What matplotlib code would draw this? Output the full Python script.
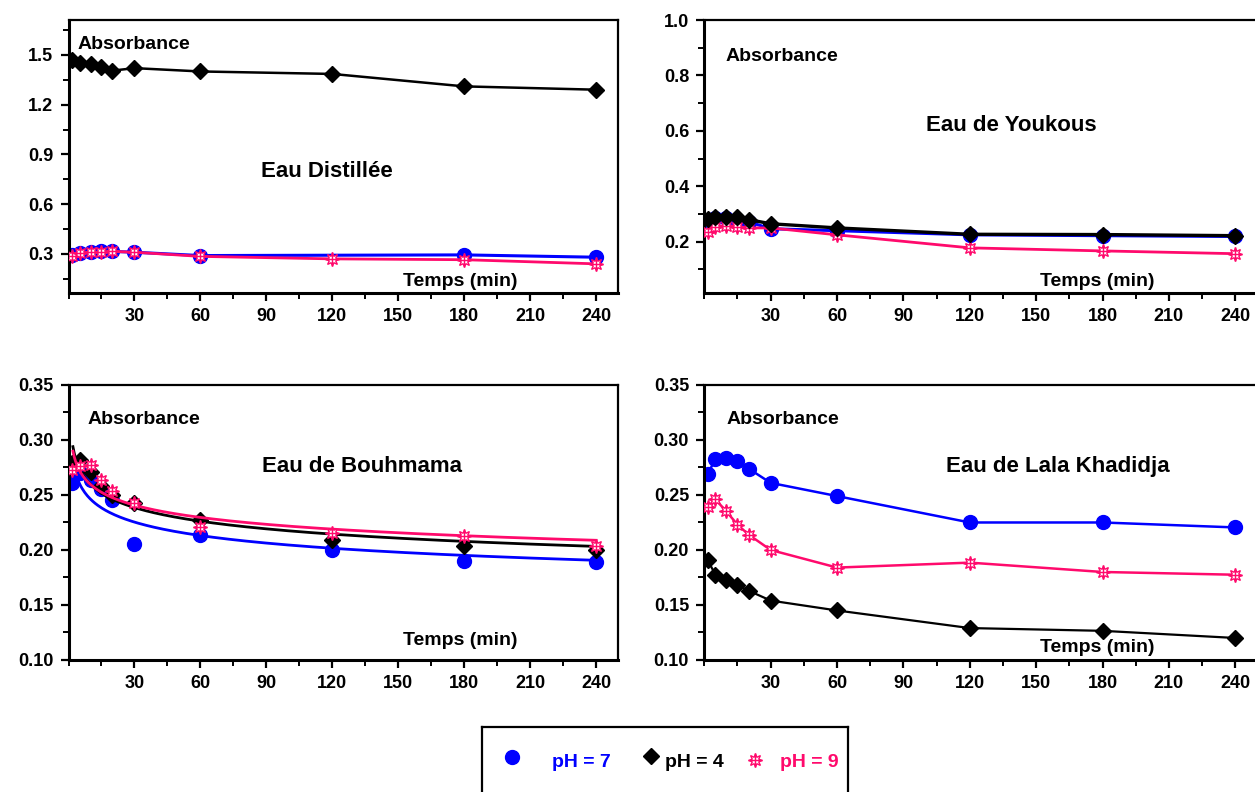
import numpy as np
import matplotlib
matplotlib.use("Agg")
import matplotlib.pyplot as plt
from matplotlib.ticker import MultipleLocator

plt.rcParams['font.family'] = ['Liberation Sans', 'DejaVu Sans']
plt.rcParams['font.weight'] = 'bold'

# temps (min)
t = [1.5, 5, 10, 15, 20, 30, 60, 120, 180, 240]
xticks = [30, 60, 90, 120, 150, 180, 210, 240]

# Eau distillee
dist_ph7 = [0.295, 0.305, 0.31, 0.315, 0.315, 0.31, 0.29, np.nan, 0.294, 0.28]
dist_ph4 = [1.467, 1.45, 1.445, 1.425, 1.405, 1.42, 1.40, 1.385, 1.31, 1.29]
dist_ph9 = [0.29, 0.305, 0.31, 0.31, 0.315, 0.31, 0.285, 0.27, 0.265, 0.24]

# Eau de Youkous
you_ph7 = [0.277, 0.285, 0.285, 0.28, 0.272, 0.247, 0.24, 0.225, 0.222, 0.219]
you_ph4 = [0.283, 0.29, 0.29, 0.288, 0.28, 0.265, 0.25, 0.227, 0.226, 0.222]
you_ph9 = [0.235, 0.255, 0.258, 0.255, 0.25, 0.25, 0.225, 0.178, 0.167, 0.157]

# Eau de Bouhmama (points + ajustement)
bou_ph7 = [0.261, 0.27, 0.264, 0.255, 0.245, 0.2055, 0.214, 0.200, 0.190, 0.189]
bou_ph4 = [0.279, 0.282, 0.271, 0.258, 0.250, 0.243, 0.227, 0.209, 0.204, 0.200]
bou_ph9 = [0.273, 0.276, 0.277, 0.264, 0.254, 0.243, 0.221, 0.215, 0.213, 0.204]

# Eau de Lala Khadidja
lal_ph7 = [0.269, 0.2825, 0.284, 0.281, 0.274, 0.261, 0.249, 0.225, 0.225, 0.2205]
lal_ph4 = [0.191, 0.1775, 0.173, 0.168, 0.163, 0.154, 0.145, 0.129, 0.1265, 0.120]
lal_ph9 = [0.239, 0.246, 0.235, 0.223, 0.214, 0.200, 0.184, 0.1885, 0.180, 0.1775]

BLUE = '#0000ff'
PINK = '#ff0a6c'
BLACK = '#000000'

fig = plt.figure(figsize=(12.55, 7.92), dpi=100)

L = [0.0546, 0.4379]
R = [0.5612, 0.4407]
TOP = [0.630, 0.3447]
BOT = [0.1667, 0.3472]


def style(ax, ylim, major, minor, yfmt):
    ax.set_xlim(0, 250)
    ax.set_ylim(*ylim)
    ax.set_xticks(xticks)
    ax.xaxis.set_minor_locator(MultipleLocator(15))
    ax.yaxis.set_major_locator(MultipleLocator(major))
    ax.yaxis.set_minor_locator(MultipleLocator(minor))
    ax.set_yticklabels([yfmt % v for v in ax.get_yticks()])
    ax.tick_params(which='major', direction='out', length=6, width=1.6,
                   labelsize=13, pad=5, top=False, right=False)
    ax.tick_params(which='minor', direction='out', length=4, width=1.4,
                   top=False, right=False)
    for s in ['left', 'bottom']:
        ax.spines[s].set_linewidth(2.2)
    for s in ['top', 'right']:
        ax.spines[s].set_linewidth(1.6)
    for lab in ax.get_xticklabels() + ax.get_yticklabels():
        lab.set_fontweight('bold')
    ax.set_ylim(*ylim)


def star(ax, x, y, **kw):
    ax.plot(x, y, color=PINK, marker=(8, 1, 0), ms=10, mfc='white',
            mec=PINK, mew=1.0, **kw)
    ax.plot(x, y, ls='none', color=PINK, marker='+', ms=10, mew=1.0,
            zorder=kw.get('zorder', 2) + 0.1)


def labels(ax, absx, absy, title, tx, ty, tempx, tempy):
    ax.text(absx, absy, 'Absorbance', transform=ax.transAxes, fontsize=14,
            fontweight='bold', va='center', ha='left')
    ax.text(tx, ty, title, transform=ax.transAxes, fontsize=16,
            fontweight='bold', va='center', ha='center')
    ax.text(tempx, tempy, 'Temps (min)', transform=ax.transAxes, fontsize=14,
            fontweight='bold', va='center', ha='center')


# --- Eau Distillee
ax1 = fig.add_axes([L[0], TOP[0], L[1], TOP[1]])
m = ~np.isnan(dist_ph7)
ax1.plot(np.array(t)[m], np.array(dist_ph7)[m], color=BLUE, lw=2.2,
         marker='o', ms=10, zorder=2)
ax1.plot(t, dist_ph4, color=BLACK, lw=1.8, marker='D', ms=8.5, zorder=3)
star(ax1, t, dist_ph9, lw=2.0, zorder=4)
style(ax1, (0.064, 1.71), 0.3, 0.15, '%.1f')
labels(ax1, 0.017, 0.912, 'Eau Distillée', 0.47, 0.447, 0.712, 0.044)

# --- Eau de Youkous
ax2 = fig.add_axes([R[0], TOP[0], R[1], TOP[1]])
ax2.plot(t, you_ph7, color=BLUE, lw=2.2, marker='o', ms=10, zorder=2)
star(ax2, t, you_ph9, lw=2.0, zorder=3)
ax2.plot(t, you_ph4, color=BLACK, lw=2.4, marker='D', ms=8.5, zorder=5)
style(ax2, (0.015, 1.0), 0.2, 0.1, '%.1f')
labels(ax2, 0.039, 0.868, 'Eau de Youkous', 0.555, 0.612, 0.71, 0.044)

# --- Eau de Bouhmama : points + ajustement puissance
ax3 = fig.add_axes([L[0], BOT[0], L[1], BOT[1]])
tf = np.linspace(2, 240, 400)
for ys, col, start, z in [(bou_ph7, BLUE, 4, 2), (bou_ph4, BLACK, 2, 3),
                          (bou_ph9, PINK, 2, 4)]:
    b, a = np.polyfit(np.log(t), np.log(ys), 1)
    tt = tf[tf >= start]
    ax3.plot(tt, np.exp(a) * tt ** b, color=col, lw=2.0, zorder=z)
ax3.plot(t, bou_ph7, ls='none', color=BLUE, marker='o', ms=10, zorder=2)
ax3.plot(t, bou_ph4, ls='none', color=BLACK, marker='D', ms=8.5, zorder=3)
star(ax3, t, bou_ph9, ls='none', zorder=4)
style(ax3, (0.10, 0.35), 0.05, 0.025, '%.2f')
labels(ax3, 0.035, 0.873, 'Eau de Bouhmama', 0.534, 0.705, 0.712, 0.069)

# --- Eau de Lala Khadidja
ax4 = fig.add_axes([R[0], BOT[0], R[1], BOT[1]])
ax4.plot(t, lal_ph7, color=BLUE, lw=1.8, marker='o', ms=10, zorder=2)
ax4.plot(t, lal_ph4, color=BLACK, lw=1.6, marker='D', ms=8.5, zorder=3)
star(ax4, t, lal_ph9, lw=1.8, zorder=4)
style(ax4, (0.10, 0.35), 0.05, 0.025, '%.2f')
labels(ax4, 0.041, 0.873, 'Eau de Lala Khadidja', 0.639, 0.702, 0.71, 0.047)

# --- legende
lg = fig.add_axes([482 / 1255, -0.05, 366 / 1255, 65 / 792 + 0.05])
lg.set_xlim(0, 1)
lg.set_ylim(0, 1)
lg.set_xticks([])
lg.set_yticks([])
for s in lg.spines.values():
    s.set_linewidth(1.6)
lg.plot([0.082], [0.713], 'o', color=BLUE, ms=10)
lg.text(0.191, 0.665, 'pH = 7', color=BLUE, fontsize=14, fontweight='bold',
        va='center')
lg.plot([0.462], [0.72], 'D', color=BLACK, ms=8)
lg.text(0.500, 0.665, 'pH = 4', color=BLACK, fontsize=14, fontweight='bold',
        va='center')
lg.plot([0.746], [0.68], marker=(8, 1, 0), ms=10, mfc='white', mec=PINK, mew=1.0)
lg.plot([0.746], [0.68], marker='+', ms=10, mew=1.0, color=PINK)
lg.text(0.814, 0.665, 'pH = 9', color=PINK, fontsize=14, fontweight='bold',
        va='center')

fig.savefig('out.png', dpi=100)
